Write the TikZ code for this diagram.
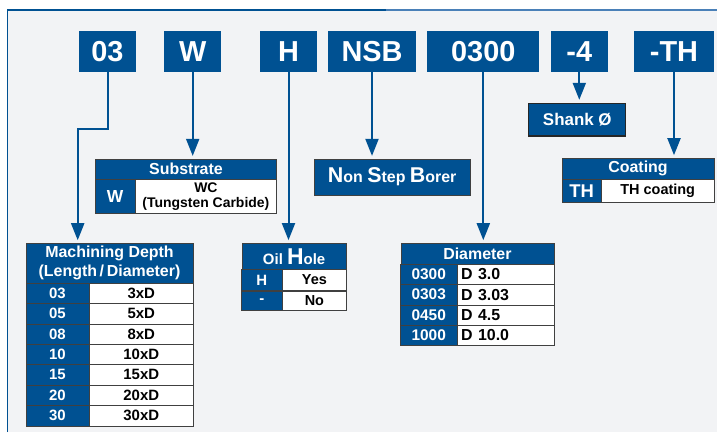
\documentclass[tikz,border=0pt]{standalone}
\usepackage{fontspec}
\setmainfont{Liberation Sans}
\usepackage{tikz}
\usetikzlibrary{arrows.meta}
\definecolor{codeblue}{RGB}{0,81,146}
\definecolor{lightline}{RGB}{74,128,184}
\definecolor{panelgray}{RGB}{242,243,245}
\definecolor{cellline}{RGB}{64,64,64}
\newcommand\pxfont[1]{\fontsize{#1}{#1}\selectfont\bfseries}

\begin{document}
\begin{tikzpicture}[x=1bp,y=-1bp,>={Triangle[width=13bp,length=17bp]},
  code/.style={fill=codeblue,text=white,inner sep=0,minimum height=40.7,font=\pxfont{29}},
  hd/.style={draw=cellline,fill=codeblue,text=white,inner sep=0,font=\pxfont{16}},
  key/.style={draw=cellline,fill=codeblue,text=white,inner sep=0,font=\pxfont{15}},
  val/.style={draw=cellline,fill=white,text=black,inner sep=0,font=\pxfont{15}},
  dval/.style={val,text width=89.3,align=left,font=\pxfont{16}},
  link/.style={draw=codeblue,line width=2bp,->,shorten >=3bp},
]
%%
\useasboundingbox (0,0) rectangle (717,432);
\fill [white] (0,0) rectangle (717,432);
\fill [panelgray] (7.3,10) rectangle (717,432);
\draw [codeblue,line width=1.3] (7.3,432) -- (7.3,10) -- (386,10);
\draw [lightline,line width=1.3] (386,10) -- (717,10);
%
\node (c03) at (107.5,51.3) [code,minimum width=57] {03};
  \node (cW) at (192.7,51.3) [code,minimum width=56.7] {W};
  \node (cH) at (288.5,51.3) [code,minimum width=57] {H};
  \node (cNSB) at (372,51.3) [code,minimum width=88] {NSB};
  \node (c0300) at (483.3,51.3) [code,minimum width=112.7] {0300};
  \node (c4) at (579.3,51.3) [code,minimum width=56.7] {-4};
  \node (cTH) at (674,51.3) [code,minimum width=80] {-TH};
%
\node (shank) at (577.3,119.7) [draw=black!85,line width=1.2,fill=codeblue,text=white,inner sep=0,minimum width=97.3,minimum height=32.7,font=\pxfont{17}] {Shank Ø};
%
\node (sub) at (186,169.2) [hd,minimum width=181.4,minimum height=20.3] {Substrate};
  \node (subk) at (115.2,196.2) [key,minimum width=39.7,minimum height=33.7,font=\pxfont{17.5}] {W};
  \node (subv) at (205.9,196.2) [val,minimum width=141.7,minimum height=33.7,align=center,font=\fontsize{14}{15}\selectfont\bfseries] {WC\\(Tungsten Carbide)};
%
\node (nsb) at (392.2,177) [draw=cellline,fill=codeblue,text=white,inner sep=0,minimum width=155.7,minimum height=36] {\pxfont{21.5}N\pxfont{16}on \pxfont{21.5}S\pxfont{16}tep \pxfont{21.5}B\pxfont{16}orer};
%
\node (coat) at (638,168.7) [hd,minimum width=152,minimum height=20.7] {Coating};
  \node (coatk) at (581.7,190.7) [key,minimum width=39.3,minimum height=23.3,font=\pxfont{18.5}] {TH};
  \node (coatv) at (657.7,190.7) [val,minimum width=112.7,minimum height=23.3,font=\pxfont{14.5}] {TH coating};
%
\node (md) at (109.5,263.2) [hd,minimum width=167.6,minimum height=39.7,align=center,font=\fontsize{16}{19}\selectfont\bfseries] {Machining Depth\\(Length\,/\,Diameter)};
  \node (mdk1) at (57.5,293.2) [key,minimum width=63.6,minimum height=20.4] {03};
  \node (mdv1) at (141.3,293.2) [val,minimum width=104,minimum height=20.4] {3xD};
  \node (mdk2) at (57.5,313.6) [key,minimum width=63.6,minimum height=20.4] {05};
  \node (mdv2) at (141.3,313.6) [val,minimum width=104,minimum height=20.4] {5xD};
  \node (mdk3) at (57.5,334.0) [key,minimum width=63.6,minimum height=20.4] {08};
  \node (mdv3) at (141.3,334.0) [val,minimum width=104,minimum height=20.4] {8xD};
  \node (mdk4) at (57.5,354.4) [key,minimum width=63.6,minimum height=20.4] {10};
  \node (mdv4) at (141.3,354.4) [val,minimum width=104,minimum height=20.4] {10xD};
  \node (mdk5) at (57.5,374.8) [key,minimum width=63.6,minimum height=20.4] {15};
  \node (mdv5) at (141.3,374.8) [val,minimum width=104,minimum height=20.4] {15xD};
  \node (mdk6) at (57.5,395.2) [key,minimum width=63.6,minimum height=20.4] {20};
  \node (mdv6) at (141.3,395.2) [val,minimum width=104,minimum height=20.4] {20xD};
  \node (mdk7) at (57.5,415.6) [key,minimum width=63.6,minimum height=20.4] {30};
  \node (mdv7) at (141.3,415.6) [val,minimum width=104,minimum height=20.4] {30xD};
%
\node (oil) at (294.1,256.3) [hd,minimum width=105.2,minimum height=26] {\pxfont{15}Oil \pxfont{23}H\pxfont{15}ole};
  \node (oilk1) at (261.8,280) [key,minimum width=40.5,minimum height=21.4] {H};
  \node (oilv1) at (314.4,280) [val,minimum width=64.7,minimum height=21.4,font=\pxfont{14.5}] {Yes};
  \node (oilk2) at (261.8,300.7) [key,minimum width=40.5,minimum height=20] {-};
  \node (oilv2) at (314.4,300.7) [val,minimum width=64.7,minimum height=20,font=\pxfont{14.5}] {No};
%
\node (dia) at (477.4,253.7) [hd,minimum width=153.8,minimum height=20.7] {Diameter};
  \node (diak1) at (428.7,274.2) [key,minimum width=56.5,minimum height=20.4,font=\pxfont{15.5}] {0300};
  \node (diav1) at (505.7,274.2) [dval,minimum width=97.3,minimum height=20.4] {D 3.0};
  \node (diak2) at (428.7,294.6) [key,minimum width=56.5,minimum height=20.4,font=\pxfont{15.5}] {0303};
  \node (diav2) at (505.7,294.6) [dval,minimum width=97.3,minimum height=20.4] {D 3.03};
  \node (diak3) at (428.7,315.0) [key,minimum width=56.5,minimum height=20.4,font=\pxfont{15.5}] {0450};
  \node (diav3) at (505.7,315.0) [dval,minimum width=97.3,minimum height=20.4] {D 4.5};
  \node (diak4) at (428.7,335.5) [key,minimum width=56.5,minimum height=20.4,font=\pxfont{15.5}] {1000};
  \node (diav4) at (505.7,335.5) [dval,minimum width=97.3,minimum height=20.4] {D 10.0};
%
\coordinate (bend03) at (77.7,128.7);
  \draw [link] (c03.south) |- (bend03) -- (bend03 |- md.north);
  \draw [link] (cW.south) -- (cW.south |- sub.north);
  \draw [link] (cH.south) -- (cH.south |- oil.north);
  \draw [link] (cNSB.south) -- (cNSB.south |- nsb.north);
  \draw [link] (c0300.south) -- (c0300.south |- dia.north);
  \draw [link] (c4.south) -- (c4.south |- shank.north);
  \draw [link] (cTH.south) -- (cTH.south |- coat.north);
%
\end{tikzpicture}
\end{document}
